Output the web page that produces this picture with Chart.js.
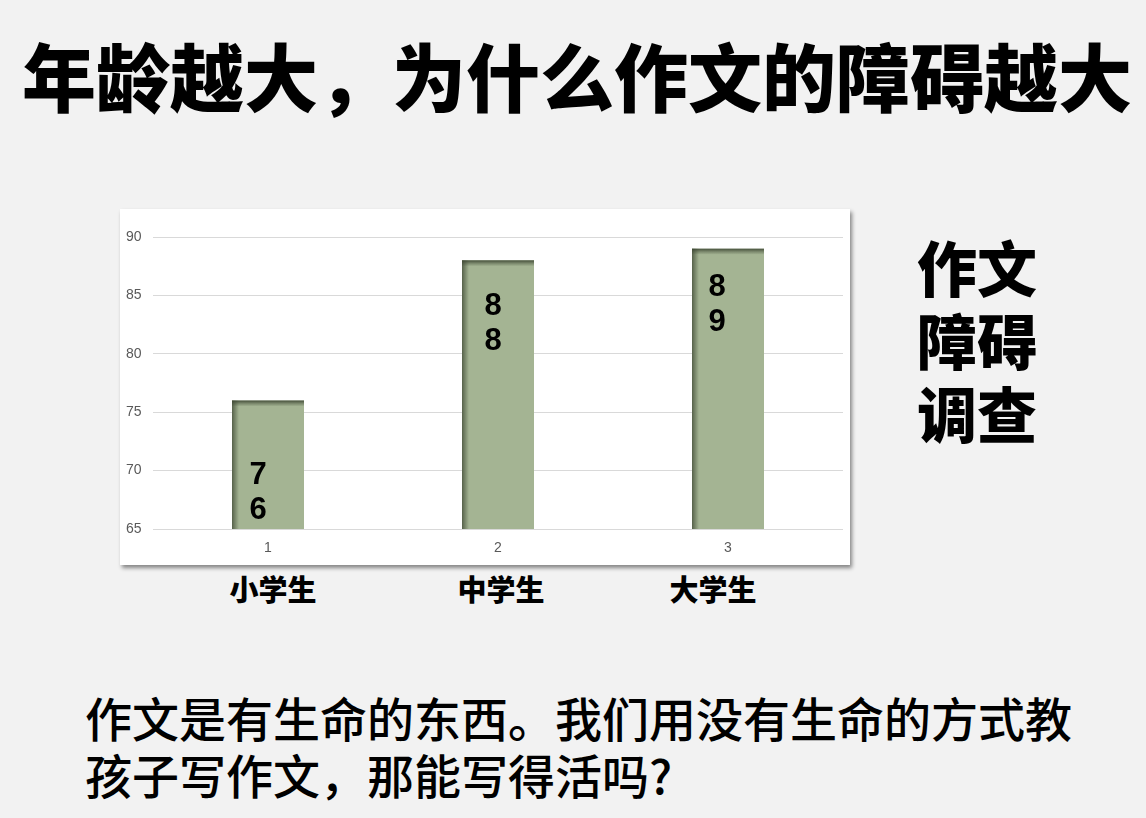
<!DOCTYPE html>
<html>
<head>
<meta charset="utf-8">
<script src="https://cdn.jsdelivr.net/npm/chart.js@4"></script>
<style>
  html, body { margin: 0; padding: 0; }
  body { width: 1146px; height: 818px; background: #f2f2f2; position: relative; overflow: hidden;
         font-family: "Noto Sans CJK SC", "Noto Sans", sans-serif; }
  #title { position: absolute; left: 22px; top: 37px; font-size: 74px; line-height: 74px; font-weight: 900;
           color: #000; white-space: nowrap; letter-spacing: 0px; }
  #box { position: absolute; left: 120px; top: 209px; width: 730px; height: 356px; background: #fff;
         box-shadow: 2px 3px 4px rgba(0,0,0,0.45); }
  #side { position: absolute; left: 917px; top: 229px; font-size: 60px; line-height: 73px; font-weight: 900; color: #000; }
  .cat { position: absolute; top: 569px; font-size: 29px; line-height: 38px; font-weight: 900; color: #000;
         transform: translateX(-50%); white-space: nowrap; }
  #bottom { position: absolute; left: 85px; top: 688px; font-size: 47px; line-height: 57px; font-weight: 500;
            color: #000; white-space: nowrap; }
</style>
</head>
<body>
<div id="title"></div>
<div id="box"><canvas id="c" width="730" height="356"></canvas></div>
<div id="side"></div>
<div id="cats"></div>
<div id="bottom"></div>
<script>
// ---- data ----
const titleText = "年龄越大，为什么作文的障碍越大";
const sideLines = ["作文", "障碍", "调查"];
const bottomLines = ["作文是有生命的东西。我们用没有生命的方式教", "孩子写作文，那能写得活吗?"];
const xTicks = ["1", "2", "3"];
const categories = ["小学生", "中学生", "大学生"];
const scores = [76, 88, 89];
const yTicks = [65, 70, 75, 80, 85, 90];

// ---- text ----
document.getElementById('title').textContent = titleText;
document.getElementById('side').innerHTML = sideLines.join('<br>');
document.getElementById('bottom').innerHTML = bottomLines.join('<br>');
const catCenters = [273, 501, 713];
const catsDiv = document.getElementById('cats');
categories.forEach((c, i) => {
  const d = document.createElement('div');
  d.className = 'cat';
  d.style.left = catCenters[i] + 'px';
  d.textContent = c;
  catsDiv.appendChild(d);
});

function barBase(chart, el) {
  return Math.min(el.base, chart.chartArea.bottom);
}

// ---- plugins ----
const barShade = {
  id: 'barShade',
  afterDatasetsDraw(chart) {
    const ctx = chart.ctx;
    chart.getDatasetMeta(0).data.forEach(el => {
      const base = barBase(chart, el);
      const left = el.x - el.width / 2, top = el.y, w = el.width, h = base - el.y;
      ctx.save();
      let g = ctx.createLinearGradient(left, 0, left + 7, 0);
      g.addColorStop(0, 'rgba(60,70,50,0.75)');
      g.addColorStop(1, 'rgba(60,70,50,0)');
      ctx.fillStyle = g;
      ctx.fillRect(left, top, 7, h);
      g = ctx.createLinearGradient(0, top, 0, top + 6);
      g.addColorStop(0, 'rgba(60,70,50,0.9)');
      g.addColorStop(0.5, 'rgba(60,70,50,0.4)');
      g.addColorStop(1, 'rgba(60,70,50,0)');
      ctx.fillStyle = g;
      ctx.fillRect(left, top, w, 6);
      ctx.restore();
    });
  }
};

const digitLabels = {
  id: 'digitLabels',
  afterDatasetsDraw(chart, args, opts) {
    const ctx = chart.ctx;
    const ds = chart.data.datasets[0];
    chart.getDatasetMeta(0).data.forEach((el, i) => {
      const chars = String(ds.data[i]).split('');
      const base = barBase(chart, el);
      ctx.save();
      ctx.font = 'bold 31px "Liberation Sans", Arial, sans-serif';
      ctx.fillStyle = '#000';
      ctx.textAlign = 'center';
      ctx.textBaseline = 'middle';
      const x = el.x + opts.dx[i];
      const lh = 35;
      let y0;
      if (opts.anchor[i] === 'bottom') {
        y0 = base - 19 - lh * (chars.length - 1);
      } else {
        y0 = el.y + opts.topOffset[i];
      }
      chars.forEach((ch, k) => ctx.fillText(ch, x, y0 + k * lh));
      ctx.restore();
    });
  }
};

// ---- chart ----
new Chart(document.getElementById('c'), {
  type: 'bar',
  data: {
    labels: xTicks,
    datasets: [{
      data: scores,
      backgroundColor: '#a4b493',
      borderWidth: 0,
      categoryPercentage: 1,
      barPercentage: 0.313
    }]
  },
  options: {
    responsive: false,
    animation: false,
    layout: { padding: { left: 6, right: 7, top: 28, bottom: 0 } },
    plugins: {
      legend: { display: false },
      tooltip: { enabled: false },
      digitLabels: { anchor: ['bottom', 'top', 'top'], topOffset: [0, 46, 39], dx: [-10, -5, -11] }
    },
    scales: {
      x: {
        grid: { display: false, drawTicks: false },
        border: { display: false },
        ticks: { color: '#595959', font: { family: '"Liberation Sans", Arial, sans-serif', size: 14 }, padding: 11 },
        afterFit(s) { s.height = 36; }
      },
      y: {
        min: 65, max: 90,
        afterBuildTicks(s) { s.ticks = yTicks.map(v => ({ value: v })); },
        grid: { color: '#d9d9d9', lineWidth: 1, drawTicks: false },
        border: { display: false },
        ticks: { color: '#595959', crossAlign: 'far', font: { family: '"Liberation Sans", Arial, sans-serif', size: 14 } },
        afterFit(s) { s.width = 27; }
      }
    }
  },
  plugins: [barShade, digitLabels]
});
</script>
</body>
</html>
